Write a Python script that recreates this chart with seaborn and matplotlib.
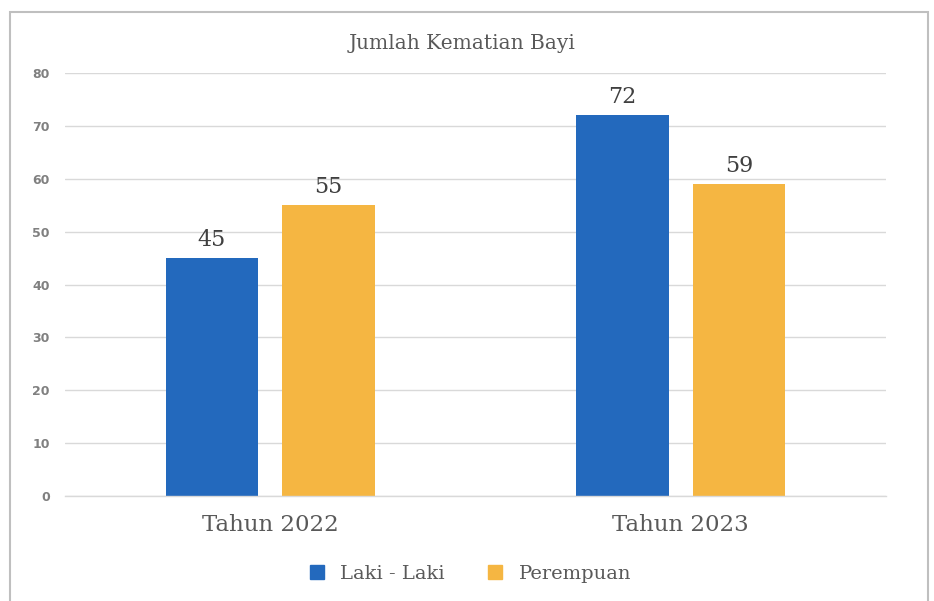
import pandas as pd
import matplotlib.pyplot as plt
import seaborn as sns
from matplotlib.lines import Line2D
from matplotlib.patches import Rectangle

# data
tahun = ["Tahun 2022", "Tahun 2023"]
laki_laki = [45, 72]
perempuan = [55, 59]
series = ["Laki - Laki", "Perempuan"]
colors = ["#2369BD", "#F5B642"]

df = pd.DataFrame({
    "tahun": tahun * 2,
    "jenis": [series[0]] * 2 + [series[1]] * 2,
    "jumlah": laki_laki + perempuan,
})

sns.set_style("white")
plt.rcParams["font.family"] = ["DejaVu Serif"]

fig = plt.figure(figsize=(9.34, 6.01), dpi=100)
ax = fig.add_axes([0.0696, 0.1747, 0.879, 0.7038])

sns.barplot(data=df, x="tahun", y="jumlah", hue="jenis", palette=colors,
            width=0.568, gap=0.21, ax=ax, legend=False, saturation=1,
            linewidth=0)

for cont in ax.containers:
    ax.bar_label(cont, padding=5, fontsize=16, color="#404040")

ax.set_ylim(0, 80)
ax.set_xlim(-0.5, 1.5)
ax.set_yticks(range(0, 81, 10))
ax.yaxis.grid(True, color="#D9D9D9", linewidth=1)
ax.set_axisbelow(True)
for s in ax.spines.values():
    s.set_visible(False)
ax.spines["bottom"].set_visible(True)
ax.spines["bottom"].set_color("#D9D9D9")
ax.spines["bottom"].set_linewidth(1)
ax.set_xlabel("")
ax.set_ylabel("")
ax.tick_params(axis="y", length=0, pad=11)
ax.tick_params(axis="x", length=0, pad=13)
for lbl in ax.get_yticklabels():
    lbl.set_fontfamily("DejaVu Sans")
    lbl.set_fontweight("bold")
    lbl.set_fontsize(9)
    lbl.set_color("#808080")
for lbl in ax.get_xticklabels():
    lbl.set_fontsize(16.5)
    lbl.set_color("#595959")

fig.text(0.495, 0.928, "Jumlah Kematian Bayi", ha="center", va="center",
         fontsize=14.5, color="#595959")

handles = [Line2D([], [], marker="s", linestyle="", markersize=10,
                  color=c) for c in colors]
fig.legend(handles, series, loc="center", bbox_to_anchor=(0.497, 0.045),
           ncol=2, frameon=False, fontsize=14, handletextpad=0.2,
           columnspacing=1.6, labelcolor="#595959")

# chart border
fig.patches.append(Rectangle((10 / 934, -0.05), 918 / 934, 1.05 - 12 / 601,
                             transform=fig.transFigure, fill=False,
                             edgecolor="#BFBFBF", linewidth=1.5))

fig.savefig("out.png", dpi=100)
